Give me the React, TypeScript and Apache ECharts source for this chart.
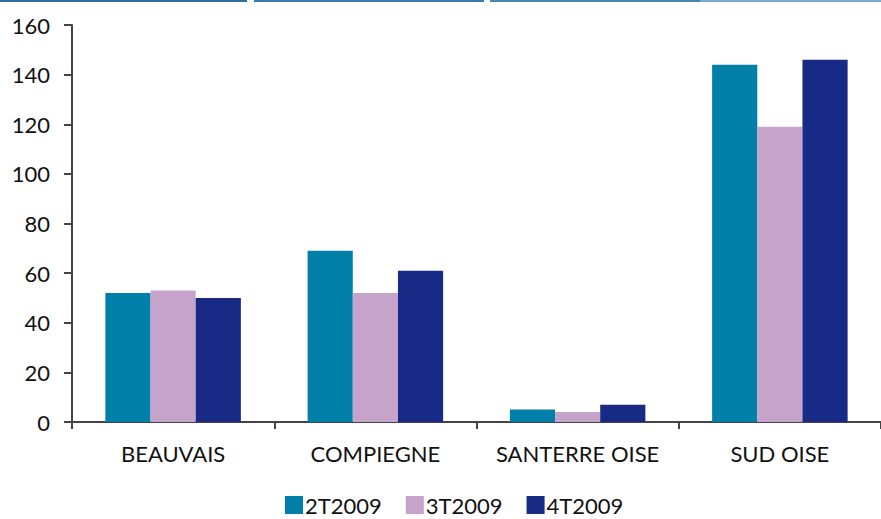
import React, { useEffect, useRef } from "react";
import * as echarts from "echarts";

const categories = ["BEAUVAIS", "COMPIEGNE", "SANTERRE OISE", "SUD OISE"];
const seriesNames = ["2T2009", "3T2009", "4T2009"];
const values2T = [52, 69, 5, 144];
const values3T = [53, 52, 4, 119];
const values4T = [50, 61, 7, 146];
const colors = ["#007FA8", "#C6A3CB", "#182986"];

export default function App() {
  const ref = useRef<HTMLDivElement>(null);
  useEffect(() => {
    document.body.style.margin = "0";
    const chart = echarts.init(ref.current!, undefined, { renderer: "svg" });
    const font = "Lato, sans-serif";
    chart.setOption({
      animation: false,
      backgroundColor: "#ffffff",
      color: colors,
      textStyle: { fontFamily: font },
      grid: { left: 72, right: 0, top: 25, bottom: 97, containLabel: false },
      graphic: [
        { type: "line", shape: { x1: 0, y1: 1, x2: 247, y2: 1 }, style: { stroke: "#2D6E9F", lineWidth: 2 } },
        { type: "line", shape: { x1: 254, y1: 1, x2: 484, y2: 1 }, style: { stroke: "#3A7AAA", lineWidth: 2 } },
        { type: "line", shape: { x1: 490, y1: 1, x2: 700, y2: 1 }, style: { stroke: "#4A86B2", lineWidth: 2 } },
        { type: "line", shape: { x1: 700, y1: 1, x2: 881, y2: 1 }, style: { stroke: "#7CA8C9", lineWidth: 2 } },
      ],
      legend: {
        top: 494,
        left: 285,
        padding: 0,
        itemWidth: 18,
        itemHeight: 18,
        itemGap: 24,
        icon: "rect",
        textStyle: { fontSize: 22, lineHeight: 20, height: 20, color: "#111", fontFamily: font, padding: [0, 0, 0, -3] },
        data: seriesNames,
      },
      xAxis: {
        type: "category",
        data: categories,
        axisLine: { lineStyle: { color: "#444", width: 2 } },
        axisTick: { show: true, length: 7, lineStyle: { color: "#444", width: 2 } },
        axisLabel: { fontSize: 22, color: "#111", margin: 20, fontFamily: font, interval: 0 },
      },
      yAxis: {
        type: "value",
        min: 0,
        max: 160,
        interval: 20,
        axisLine: { show: true, lineStyle: { color: "#444", width: 2 } },
        axisTick: { show: true, length: 8, lineStyle: { color: "#444", width: 2 } },
        axisLabel: { fontSize: 22, color: "#111", margin: 22, fontFamily: font },
        splitLine: {
          show: true,
          lineStyle: {
            color: "#222",
            width: 2,
            shadowColor: "rgba(0,0,0,0.4)",
            shadowOffsetY: 2,
            shadowBlur: 2,
          },
        },
      },
      series: [
        { name: seriesNames[0], type: "bar", data: values2T, barGap: "0%", barCategoryGap: "33%" },
        { name: seriesNames[1], type: "bar", data: values3T, barGap: "0%", barCategoryGap: "33%" },
        { name: seriesNames[2], type: "bar", data: values4T, barGap: "0%", barCategoryGap: "33%" },
      ],
    });
    return () => chart.dispose();
  }, []);
  return <div ref={ref} style={{ width: 881, height: 519 }} />;
}
